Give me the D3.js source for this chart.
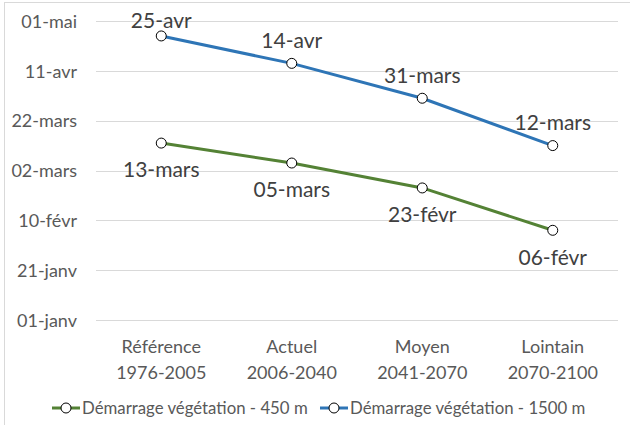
<!DOCTYPE html>
<html>
<head>
<meta charset="utf-8">
<script src="https://cdn.jsdelivr.net/npm/d3@7"></script>
<style>
	body { margin: 0; background: #fff; }
	text { font-family: Lato, 'Open Sans', sans-serif; }
</style>
</head>
<body>
<svg id="canvas" width="630" height="425"></svg>
<script>
// categories (two lines each)
const periodes = ['Référence', 'Actuel', 'Moyen', 'Lointain'];
const annees = ['1976-2005', '2006-2040', '2041-2070', '2070-2100'];

// dates "mois-jour" (year fixed, non leap)
const serie450 = ['03-13', '03-05', '02-23', '02-06'];
const serie1500 = ['04-25', '04-14', '03-31', '03-12'];
const yTicks = ['01-01', '01-21', '02-10', '03-02', '03-22', '04-11', '05-01'];

const seriesNames = ['Démarrage végétation - 450 m', 'Démarrage végétation - 1500 m'];

const mois = ['janv', 'févr', 'mars', 'avr', 'mai', 'juin', 'juil', 'août', 'sept', 'oct', 'nov', 'déc'];
const parse = (s) => new Date(2001, +s.slice(0, 2) - 1, +s.slice(3, 5));
const fmt = (d) => d3.timeFormat('%d')(d) + '-' + mois[d.getMonth()];

const svg = d3.select('#canvas');

svg.append('rect')
	.attr('x', 4.5).attr('y', 2.5)
	.attr('width', 640).attr('height', 440)
	.attr('fill', 'none').attr('stroke', '#d9d9d9');

const x = d3.scaleBand().domain(periodes).range([96, 618]);
const y = d3.scaleTime().domain([parse('01-01'), parse('05-01')]).range([320, 21]);

// grid
const tickDates = yTicks.map(parse);
svg.append('g')
	.selectAll('line')
	.data(tickDates)
	.enter()
	.append('line')
	.attr('x1', 96).attr('x2', 618)
	.attr('y1', (d) => Math.round(y(d)) + 0.5)
	.attr('y2', (d) => Math.round(y(d)) + 0.5)
	.attr('stroke', '#d9d9d9')
	.attr('stroke-width', 1);

// y axis labels
const yAxis = d3.axisLeft(y).tickValues(tickDates).tickFormat(fmt).tickSize(0).tickPadding(0);
const gy = svg.append('g').attr('transform', 'translate(77,0)').call(yAxis);
gy.select('.domain').remove();
gy.selectAll('text')
	.attr('fill', '#595959')
	.style('font-size', '18px')
	.attr('dy', '0.35em');

// x axis labels
const gx = svg.append('g');
periodes.forEach((p, i) => {
	const cx = x(p) + x.bandwidth() / 2;
	const t = gx.append('text')
		.attr('x', cx)
		.attr('text-anchor', 'middle')
		.attr('fill', '#595959')
		.style('font-size', '18px');
	t.append('tspan').attr('x', cx).attr('y', 353).text(p);
	t.append('tspan').attr('x', cx).attr('y', 379).text(annees[i]);
});

const series = [
	{ name: seriesNames[0], values: serie450, color: '#548235', pos: 'below' },
	{ name: seriesNames[1], values: serie1500, color: '#2e75b6', pos: 'above' }
];

const line = d3.line()
	.x((d, i) => x(periodes[i]) + x.bandwidth() / 2)
	.y((d) => y(parse(d)));

series.forEach((s) => {
	svg.append('path')
		.attr('d', line(s.values))
		.attr('fill', 'none')
		.attr('stroke', s.color)
		.attr('stroke-width', 3);

	svg.append('g')
		.selectAll('circle')
		.data(s.values)
		.enter()
		.append('circle')
		.attr('cx', (d, i) => x(periodes[i]) + x.bandwidth() / 2)
		.attr('cy', (d) => y(parse(d)))
		.attr('r', 5)
		.attr('fill', '#fff')
		.attr('stroke', '#000')
		.attr('stroke-width', 1);

	svg.append('g')
		.selectAll('text')
		.data(s.values)
		.enter()
		.append('text')
		.attr('x', (d, i) => x(periodes[i]) + x.bandwidth() / 2)
		.attr('y', (d) => {
			const py = y(parse(d));
			return s.pos === 'above' ? Math.max(py - 23, 21) : py + 27;
		})
		.attr('dy', '0.35em')
		.attr('text-anchor', 'middle')
		.attr('fill', '#404040')
		.style('font-size', '21px')
		.text((d) => fmt(parse(d)));
});

// legend
const legendX = [52, 320];
series.forEach((s, i) => {
	const g = svg.append('g').attr('transform', `translate(${legendX[i]},408)`);
	g.append('line')
		.attr('x1', 0).attr('x2', 28)
		.attr('stroke', s.color).attr('stroke-width', 3);
	g.append('circle')
		.attr('cx', 14).attr('r', 5)
		.attr('fill', '#fff').attr('stroke', '#000');
	g.append('text')
		.attr('x', 30)
		.attr('dy', '0.35em')
		.attr('fill', '#595959')
		.style('font-size', '16.8px')
		.text(s.name);
});
</script>
</body>
</html>
